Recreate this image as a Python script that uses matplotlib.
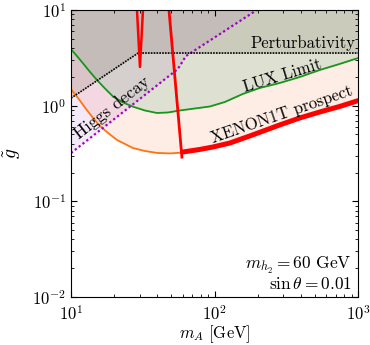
import numpy as np
import matplotlib
matplotlib.use("Agg")
import matplotlib.pyplot as plt

plt.rcParams['font.family'] = 'serif'
plt.rcParams['font.serif'] = ['cmr10', 'DejaVu Serif']
plt.rcParams['mathtext.fontset'] = 'cm'
plt.rcParams['axes.formatter.use_mathtext'] = True
plt.rcParams['font.size'] = 12

# XENON1T prospect (orange part, low mass)
xe_m = [10, 11.19, 12.72, 14.22, 15.9, 18.09, 20.9, 23.75, 27.0, 32.7, 39.6, 48.8, 59.2]
xe_g = [1.49, 1.20, 0.924, 0.744, 0.614, 0.519, 0.438, 0.398, 0.361, 0.336, 0.321, 0.317, 0.323]
# relic line (thick red part, continues the XENON1T boundary)
relic_m = [60.1, 79, 97.3, 127.6, 176, 223.7, 284, 392, 540, 743, 1000]
relic_g = [0.328, 0.349, 0.370, 0.407, 0.483, 0.551, 0.629, 0.744, 0.859, 0.981, 1.13]
# relic line, steep branch near the Higgs resonance
relic_v_m = [48.1, 59.2]
relic_v_g = [10, 0.29]
# narrow spike at m_A ~ m_h2/2
spike_m = [28.8, 30.2, 31.7]
spike_g = [10, 2.54, 10]
# LUX limit
lux_m = [10, 10.83, 12.12, 13.56, 15.16, 17.24, 19.6, 23.0, 27.0, 32.7, 39.6, 47.3,
         57.3, 72.9, 92.7, 117.9, 157, 206, 284, 392, 540, 743, 1000]
lux_g = [3.88, 3.39, 2.77, 2.25, 1.855, 1.512, 1.248, 1.08, 0.976, 0.891, 0.839, 0.849,
         0.891, 0.935, 0.981, 1.093, 1.325, 1.531, 1.726, 1.995, 2.36, 2.73, 3.15]
# Higgs decay bound
hig_m = [10, 55.5, 63.1, 197]
hig_g = [0.32, 2.42, 3.30, 10]
# perturbativity bound
pert_m = [10, 29.3, 1000]
pert_g = [1.20, 3.55, 3.55]

fig = plt.figure(figsize=(3.7, 3.45), dpi=100)
ax = fig.add_axes([0.192, 0.139, 0.776, 0.832])

top = 10
c_or = np.array([240, 117, 47]) / 255
c_pu = np.array([155, 40, 205]) / 255
c_gr = np.array([48, 158, 104]) / 255
c_pt = np.array([124, 116, 96]) / 255

xe_all_m = xe_m + relic_m
xe_all_g = xe_g + relic_g
ax.fill_between(xe_all_m, xe_all_g, top, color=c_or, alpha=0.13, lw=0)
ax.fill_between(hig_m, hig_g, top, color=c_pu, alpha=0.1, lw=0)
ax.fill_between(lux_m, lux_g, top, color=c_gr, alpha=0.15, lw=0)
ax.fill_between(pert_m, pert_g, top, color=c_pt, alpha=0.2, lw=0)

ax.plot(xe_all_m, xe_all_g, color='#ff7410', lw=1.3)
ax.plot(lux_m, lux_g, color='#16961a', lw=1.3)
ax.plot(hig_m, hig_g, color='#a000c0', lw=1.6, ls=(0, (1, 1.2)))
ax.plot(pert_m, pert_g, color='black', lw=1.2, ls=(0, (1, 0.7)))
ax.plot(relic_m, relic_g, color='red', lw=3.6, solid_capstyle='round')
ax.plot(relic_v_m, relic_v_g, color='red', lw=2.0)
ax.plot(spike_m, spike_g, color='red', lw=1.8)

ax.set_xscale('log')
ax.set_yscale('log')
ax.set_xlim(10, 1000)
ax.set_ylim(0.01, 10)
ax.tick_params(which='both', direction='in', top=True, right=True, labelsize=12)
ax.tick_params(axis='x', which='major', pad=5)
ax.tick_params(which='major', length=4)
ax.tick_params(which='minor', length=2)
ax.set_xlabel(r'$m_A\ [\mathrm{GeV}]$', labelpad=0, fontsize=12)
ax.set_ylabel(r'$\tilde{g}$', labelpad=7, fontsize=14)

ax.text(960, 3.75, 'Perturbativity', ha='right', va='bottom', fontsize=12)
ax.text(295, 2.05, 'LUX Limit', ha='center', va='center', rotation=17, fontsize=12)
ax.text(293, 0.80, 'XENON1T prospect', ha='center', va='center', rotation=19, fontsize=12)
ax.text(19.3, 0.95, 'Higgs decay', ha='center', va='center', rotation=38, fontsize=12.5)
ax.text(901, 0.0212, r'$m_{h_2} = 60\ \mathrm{GeV}$', ha='right', va='center', fontsize=12.5)
ax.text(901, 0.0138, r'$\sin\theta = 0.01$', ha='right', va='center', fontsize=12.5)

fig.savefig('out.png', dpi=100)
